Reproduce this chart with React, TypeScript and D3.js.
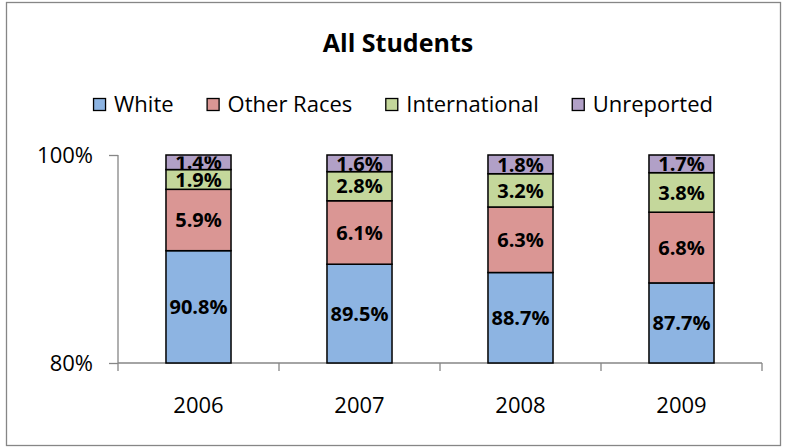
import React, { useEffect, useRef } from 'react';
import * as d3 from 'd3';

const years = ['2006', '2007', '2008', '2009'];
const seriesNames = ['White', 'Other Races', 'International', 'Unreported'];
const white = [90.8, 89.5, 88.7, 87.7];
const otherRaces = [5.9, 6.1, 6.3, 6.8];
const international = [1.9, 2.8, 3.2, 3.8];
const unreported = [1.4, 1.6, 1.8, 1.7];
const colors = ['#8db4e2', '#da9694', '#c4d79b', '#b1a0c7'];
const yTicks = [80, 100];

const FONT = '"Open Sans", "Noto Sans", sans-serif';

export default function App() {
  const ref = useRef<SVGSVGElement>(null);

  useEffect(() => {
    const svg = d3.select(ref.current);
    svg.selectAll('*').remove();

    const margin = { top: 155, right: 23, bottom: 85, left: 118 };
    const width = 785 - margin.left - margin.right;
    const height = 448 - margin.top - margin.bottom;

    // chart border
    svg.append('rect')
      .attr('x', 6.5).attr('y', 2.5)
      .attr('width', 774).attr('height', 443)
      .attr('fill', '#fff')
      .attr('stroke', '#868686')
      .attr('stroke-width', 1.3);

    svg.append('text')
      .attr('x', 398).attr('y', 52)
      .attr('text-anchor', 'middle')
      .attr('font-family', FONT)
      .attr('font-weight', 'bold')
      .attr('font-size', 25)
      .text('All Students');

    // legend, laid out from measured text widths
    const legend = svg.append('g');
    let lx = 0;
    seriesNames.forEach((name, i) => {
      const item = legend.append('g').attr('transform', `translate(${lx},0)`);
      item.append('rect')
        .attr('x', 0.5).attr('y', 98.5)
        .attr('width', 12).attr('height', 12)
        .attr('fill', colors[i])
        .attr('stroke', '#000')
        .attr('stroke-width', 1.3);
      const t = item.append('text')
        .attr('x', 21).attr('y', 112)
        .attr('font-family', FONT)
        .attr('font-size', 22)
        .text(name);
      const w = (t.node() as SVGTextElement).getComputedTextLength();
      lx += 21 + w + 33;
    });
    const legendW = lx - 33;
    legend.attr('transform', `translate(${403 - legendW / 2},0)`);

    const rows = years.map((y, i) => ({
      year: y,
      White: white[i],
      'Other Races': otherRaces[i],
      International: international[i],
      Unreported: unreported[i],
    }));
    const stacked = d3.stack<any>().keys(seriesNames)(rows);

    const x = d3.scaleBand()
      .domain(years)
      .range([0, width])
      .paddingInner(0.596)
      .paddingOuter(0.298);
    const y = d3.scaleLinear().domain([80, 100]).range([height, 0]);

    const g = svg.append('g')
      .attr('transform', `translate(${margin.left},${margin.top})`);

    g.append('defs').append('clipPath').attr('id', 'plotclip')
      .append('rect')
      .attr('x', 0).attr('y', 1.5)
      .attr('width', width).attr('height', height);

    // axes
    const axisColor = '#868686';
    const yAxis = g.append('g')
      .call(d3.axisLeft(y).tickValues(yTicks).tickSize(9).tickFormat(d => `${d}%`));
    yAxis.select('.domain').attr('stroke', axisColor).attr('stroke-width', 1.3)
      .attr('d', `M0,${height}V0`);
    yAxis.selectAll('.tick line').attr('stroke', axisColor).attr('stroke-width', 1.3);
    yAxis.selectAll('.tick text')
      .attr('font-family', FONT).attr('font-size', 22).attr('fill', '#000')
      .attr('x', -25).attr('dy', '0.36em');

    const step = x.step();
    const xg = g.append('g').attr('transform', `translate(0,${height})`);
    xg.append('line')
      .attr('x1', 0).attr('x2', width)
      .attr('stroke', axisColor).attr('stroke-width', 1.3);
    xg.selectAll('.xtick')
      .data(d3.range(years.length + 1))
      .enter().append('line')
      .attr('x1', d => d * step).attr('x2', d => d * step)
      .attr('y1', 0).attr('y2', 8)
      .attr('stroke', axisColor).attr('stroke-width', 1.3);
    xg.selectAll('.xlabel')
      .data(years)
      .enter().append('text')
      .attr('x', d => (x(d) as number) + x.bandwidth() / 2)
      .attr('y', 50)
      .attr('text-anchor', 'middle')
      .attr('font-family', FONT)
      .attr('font-size', 22)
      .text(d => d);

    // bars
    const clampY = (v: number) => y(Math.max(80, Math.min(100, v)));
    stacked.forEach((s, si) => {
      g.selectAll(`.bar${si}`)
        .data(s)
        .enter().append('rect')
        .attr('x', d => x(d.data.year) as number)
        .attr('width', x.bandwidth())
        .attr('y', d => clampY(d[1]))
        .attr('height', d => clampY(d[0]) - clampY(d[1]))
        .attr('fill', colors[si])
        .attr('stroke', '#000')
        .attr('stroke-width', 1.5);
    });

    const labels = g.append('g').attr('clip-path', 'url(#plotclip)');
    stacked.forEach((s, si) => {
      labels.selectAll(`.lab${si}`)
        .data(s)
        .enter().append('text')
        .attr('x', d => (x(d.data.year) as number) + x.bandwidth() / 2)
        .attr('y', d => (clampY(d[0]) + clampY(d[1])) / 2)
        .attr('dy', '0.36em')
        .attr('text-anchor', 'middle')
        .attr('font-family', FONT)
        .attr('font-weight', 'bold')
        .attr('font-size', 20)
        .text(d => `${(d[1] - d[0]).toFixed(1)}%`);
    });
  }, []);

  return (
    <svg
      ref={ref}
      width={785}
      height={448}
      style={{ position: 'absolute', left: 0, top: 0, background: '#fff' }}
    />
  );
}
